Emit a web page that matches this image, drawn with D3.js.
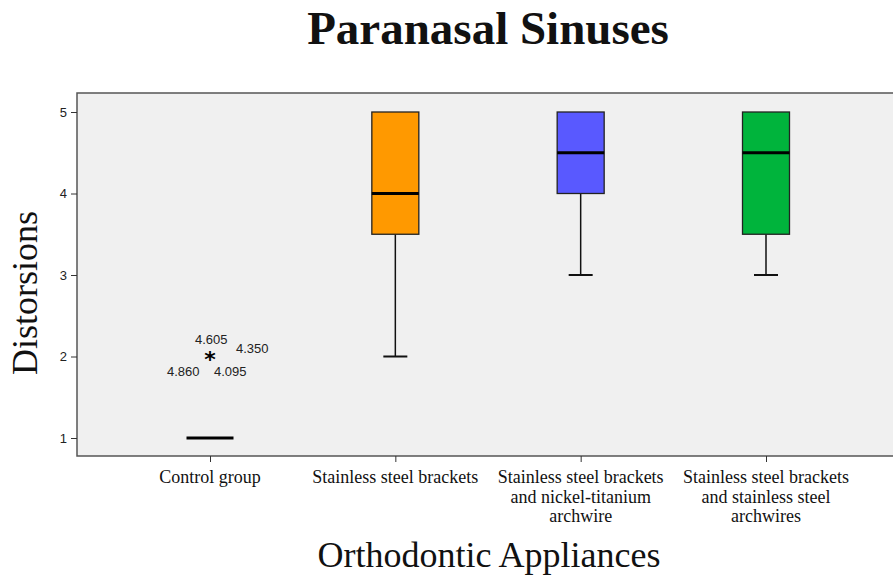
<!DOCTYPE html>
<html>
<head>
<meta charset="utf-8">
<script src="https://cdn.jsdelivr.net/npm/d3@7"></script>
<style>
  body { margin: 0; background: #fff; }
  svg { display: block; }
</style>
</head>
<body>
<div id="chart"></div>
<script>
// Data
const groups = ["Control group", "Stainless steel brackets",
  "Stainless steel brackets and nickel-titanium archwire",
  "Stainless steel brackets and stainless steel archwires"];
const groupLines = [
  ["Control group"],
  ["Stainless steel brackets"],
  ["Stainless steel brackets", "and nickel-titanium", "archwire"],
  ["Stainless steel brackets", "and stainless steel", "archwires"]
];
const mins    = [1, 2,   3,   3];
const q1s     = [1, 3.5, 4,   3.5];
const medians = [1, 4,   4.5, 4.5];
const q3s     = [1, 5,   5,   5];
const maxs    = [1, 5,   5,   5];
const colors  = ["#f0f0f0", "#ff9900", "#5959ff", "#00b43c"];
const outlierGroup = "Control group";
const outlierValue = 2;
const outlierLabels = ["4.605", "4.350", "4.860", "4.095"];
const yTicks = [1, 2, 3, 4, 5];

const W = 893, H = 578;
const plot = {left: 77, right: 900, top: 93, bottom: 456};

const svg = d3.select("#chart").append("svg")
  .attr("width", W).attr("height", H);

const x = d3.scalePoint().domain(groups).range([210, 766]);
const y = d3.scaleLinear().domain([1, 5]).range([438, 112]);

// plot background
svg.append("rect")
  .attr("x", plot.left).attr("y", plot.top)
  .attr("width", plot.right - plot.left).attr("height", plot.bottom - plot.top)
  .attr("fill", "#f0f0f0").attr("stroke", "#555").attr("stroke-width", 1.5);

// Y axis
const yAxis = svg.append("g")
  .attr("transform", `translate(${plot.left},0)`)
  .call(d3.axisLeft(y).tickValues(yTicks).tickFormat(d3.format("d")).tickSize(6).tickSizeOuter(0));
yAxis.select(".domain").remove();
yAxis.selectAll("line").attr("stroke", "#333");
yAxis.selectAll("text").attr("font-family", "Liberation Sans, Arial, sans-serif")
  .attr("font-size", 13).attr("fill", "#222").attr("dx", -1);

// X axis
const xAxis = svg.append("g")
  .attr("transform", `translate(0,${plot.bottom})`)
  .call(d3.axisBottom(x).tickSize(6).tickSizeOuter(0).tickFormat(""));
xAxis.select(".domain").remove();
xAxis.selectAll("line").attr("stroke", "#333");

groups.forEach((g, i) => {
  const t = svg.append("text")
    .attr("x", x(g)).attr("y", 483)
    .attr("text-anchor", "middle")
    .attr("font-family", "Liberation Serif, Times New Roman, serif")
    .attr("font-size", 18).attr("fill", "#111");
  groupLines[i].forEach((line, j) => {
    t.append("tspan").attr("x", x(g)).attr("dy", j === 0 ? 0 : 19.5).text(line);
  });
});

// Boxes
const boxW = 47, capW = 24;
const boxes = svg.append("g");
groups.forEach((g, i) => {
  const cx = x(g);
  if (maxs[i] > q3s[i]) {
    boxes.append("line").attr("x1", cx).attr("x2", cx)
      .attr("y1", y(q3s[i])).attr("y2", y(maxs[i])).attr("stroke", "#111").attr("stroke-width", 1.5);
  }
  if (mins[i] < q1s[i]) {
    boxes.append("line").attr("x1", cx).attr("x2", cx)
      .attr("y1", y(q1s[i])).attr("y2", y(mins[i])).attr("stroke", "#111").attr("stroke-width", 1.5);
    boxes.append("line").attr("x1", cx - capW / 2).attr("x2", cx + capW / 2)
      .attr("y1", y(mins[i])).attr("y2", y(mins[i])).attr("stroke", "#111").attr("stroke-width", 2);
  }
  if (q3s[i] > q1s[i]) {
    boxes.append("rect")
      .attr("x", cx - boxW / 2).attr("y", y(q3s[i]))
      .attr("width", boxW).attr("height", y(q1s[i]) - y(q3s[i]))
      .attr("fill", colors[i]).attr("stroke", "#222").attr("stroke-width", 1.3);
  }
  boxes.append("line")
    .attr("x1", cx - boxW / 2).attr("x2", cx + boxW / 2)
    .attr("y1", y(medians[i])).attr("y2", y(medians[i]))
    .attr("stroke", "#000").attr("stroke-width", 3);
});

// Outlier
const ox = x(outlierGroup), oy = y(outlierValue);
svg.append("text")
  .attr("x", ox).attr("y", oy + 10)
  .attr("text-anchor", "middle")
  .attr("font-family", "DejaVu Sans, sans-serif")
  .attr("font-size", 22).attr("font-weight", "bold").attr("fill", "#000")
  .text("*");
const labelOffsets = [[-15, -13], [26, -4], [-43, 19], [4, 19]];
outlierLabels.forEach((lab, i) => {
  svg.append("text")
    .attr("x", ox + labelOffsets[i][0]).attr("y", oy + labelOffsets[i][1])
    .attr("font-family", "Liberation Sans, Arial, sans-serif")
    .attr("font-size", 13).attr("fill", "#222")
    .text(lab);
});

// Titles
svg.append("text")
  .attr("x", 488).attr("y", 44)
  .attr("text-anchor", "middle")
  .attr("font-family", "Liberation Serif, Times New Roman, serif")
  .attr("font-size", 47).attr("font-weight", "bold").attr("fill", "#111")
  .text("Paranasal Sinuses");

svg.append("text")
  .attr("x", 489).attr("y", 567)
  .attr("text-anchor", "middle")
  .attr("font-family", "Liberation Serif, Times New Roman, serif")
  .attr("font-size", 36).attr("fill", "#111")
  .text("Orthodontic Appliances");

svg.append("text")
  .attr("transform", "translate(37,293) rotate(-90)")
  .attr("text-anchor", "middle")
  .attr("font-family", "Liberation Serif, Times New Roman, serif")
  .attr("font-size", 36).attr("fill", "#111")
  .text("Distorsions");
</script>
</body>
</html>
